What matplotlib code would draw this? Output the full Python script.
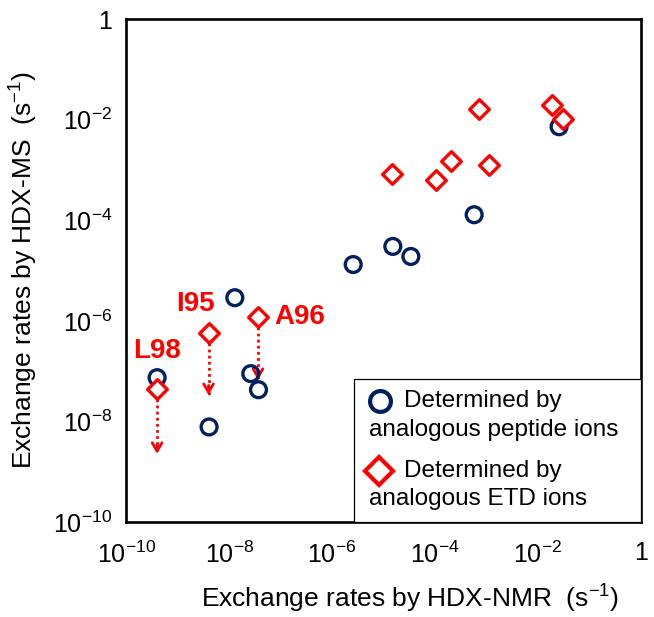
import matplotlib
matplotlib.use('Agg')
import matplotlib.pyplot as plt
from matplotlib.patches import Rectangle
import numpy as np

plt.rcParams['font.family'] = ['Liberation Sans', 'DejaVu Sans']
plt.rcParams['mathtext.default'] = 'regular'

# peptide ions (circles): log10 rates
pep_nmr = [-1.59, -3.24, -4.82, -4.47, -5.59, -7.89, -9.40, -8.39, -7.58, -7.43]
pep_ms = [-2.14, -3.89, -4.52, -4.72, -4.88, -5.54, -7.13, -8.11, -7.05, -7.37]

# ETD ions (diamonds)
etd_nmr = [-1.73, -1.52, -3.15, -3.69, -2.95, -4.84, -3.99, -9.40, -8.40, -7.44]
etd_ms = [-1.70, -1.99, -1.79, -2.83, -2.91, -3.07, -3.19, -7.35, -6.25, -5.92]

# upper-limit residues with arrows
res_names = ['L98', 'I95', 'A96']
res_nmr = [-9.40, -8.40, -7.44]
res_ms = [-7.35, -6.25, -5.92]
res_arrow_end = [-8.70, -7.53, -7.23]

navy = '#002060'
red = '#ff0000'

fig = plt.figure(figsize=(6.54, 6.17), dpi=100)
ax = fig.add_axes([0.193, 0.154, 0.787, 0.815])

ax.set_xscale('log')
ax.set_yscale('log')
ax.set_xlim(1e-10, 1)
ax.set_ylim(1e-10, 1)

# dotted arrows
for x, y0, y1 in zip(res_nmr, res_ms, res_arrow_end):
    ax.plot([10**x, 10**x], [10**(y0 - 0.2), 10**(y1 + 0.05)], color=red,
            linestyle=(0, (1, 1.2)), linewidth=2.0, zorder=2)
    ax.annotate('', xy=(10**x, 10**y1), xytext=(10**x, 10**(y1 + 0.3)),
                arrowprops=dict(arrowstyle='->,head_length=0.6,head_width=0.35',
                                color=red, lw=2.0), zorder=2)

ax.scatter(10**np.array(pep_nmr), 10**np.array(pep_ms), s=130, marker='o',
           facecolors='none', edgecolors=navy, linewidths=2.4, zorder=3)
ax.scatter(10**np.array(etd_nmr), 10**np.array(etd_ms), s=100, marker='D',
           facecolors='white', edgecolors=red, linewidths=2.4, zorder=4)

label_pos = [(-9.41, -6.6), (-8.66, -5.67), (-6.62, -5.93)]
for name, (lx, ly) in zip(res_names, label_pos):
    ax.text(10**lx, 10**ly, name, color=red, fontsize=20, fontweight='bold',
            ha='center', va='center')

ticks = [1e-10, 1e-8, 1e-6, 1e-4, 1e-2, 1]
tick_labels = ['$10^{-10}$', '$10^{-8}$', '$10^{-6}$', '$10^{-4}$', '$10^{-2}$', '1']
ax.set_xticks(ticks)
ax.set_xticklabels(tick_labels)
ax.set_yticks(ticks)
ax.set_yticklabels(tick_labels)
ax.minorticks_off()
ax.tick_params(length=0, labelsize=18)
ax.tick_params(axis='x', pad=14)
ax.tick_params(axis='y', pad=10)

ax.set_xlabel('Exchange rates by HDX-NMR  (s$^{-1}$)', fontsize=19)
ax.set_ylabel('Exchange rates by HDX-MS  (s$^{-1}$)', fontsize=19)
ax.xaxis.set_label_coords(0.551, -0.12)
ax.yaxis.set_label_coords(-0.167, 0.5)
for sp in ax.spines.values():
    sp.set_linewidth(1.9)

# legend box drawn by hand
ax.add_patch(Rectangle((0.443, 0.0), 0.557, 0.284, transform=ax.transAxes,
                       facecolor='white', edgecolor='black', linewidth=0.9, zorder=5))
ax.plot([0.493], [0.241], transform=ax.transAxes, marker='o', markersize=15,
        markerfacecolor='none', markeredgecolor=navy, markeredgewidth=3, zorder=6)
ax.plot([0.491], [0.101], transform=ax.transAxes, marker='D', markersize=14,
        markerfacecolor='none', markeredgecolor=red, markeredgewidth=3, zorder=6)
ax.text(0.540, 0.241, 'Determined by', transform=ax.transAxes, fontsize=17.5,
        va='center', ha='left', zorder=6)
ax.text(0.471, 0.183, 'analogous peptide ions', transform=ax.transAxes, fontsize=17.5,
        va='center', ha='left', zorder=6)
ax.text(0.540, 0.101, 'Determined by', transform=ax.transAxes, fontsize=17.5,
        va='center', ha='left', zorder=6)
ax.text(0.471, 0.046, 'analogous ETD ions', transform=ax.transAxes, fontsize=17.5,
        va='center', ha='left', zorder=6)

fig.savefig('out.png', dpi=100)
